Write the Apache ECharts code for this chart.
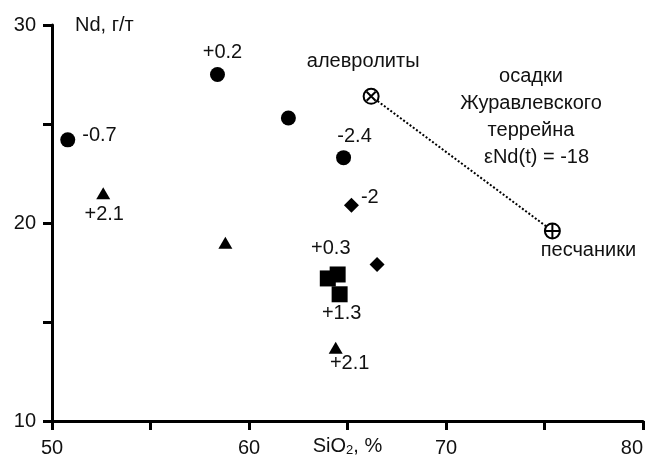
<!DOCTYPE html>
<html>
<head>
<meta charset="utf-8">
<script src="https://cdn.jsdelivr.net/npm/echarts@6/dist/echarts.min.js"></script>
<style>
  html, body { margin: 0; padding: 0; background: #fff; }
  #chart { width: 650px; height: 463px; }
</style>
</head>
<body>
<div id="chart"></div>
<script>
// Данные (SiO2, %; Nd, г/т)
const circleData = [[50.8, 24.2], [58.4, 27.5], [62.0, 25.3], [64.8, 23.3]];
const circleLabels = ['-0.7', '+0.2', '', '-2.4'];
const triangleData = [[52.6, 21.5], [58.8, 19.0], [64.4, 13.7]];
const triangleLabels = ['+2.1', '', '+2.1'];
const diamondData = [[65.2, 20.9], [66.5, 17.9]];
const diamondLabels = ['-2', ''];
const squareData = [[64.0, 17.2], [64.5, 17.4], [64.6, 16.4]];
const squareLabels = ['+0.3', '', '+1.3'];
const sedimentData = [[66.2, 26.4], [75.4, 19.6]];
const sedimentLabels = ['алевролиты', 'песчаники'];
const noteLines = ['осадки', 'Журавлевского', 'террейна', 'εNd(t) = -18'];

// Положения подписей (стиль, не данные)
const circleLabelPos = [
  { position: 'right', offset: [2, -4] },
  { position: 'top', offset: [5, 0] },
  null,
  { position: 'top', offset: [11, 1] }
];
const triangleLabelPos = [
  { position: 'bottom', offset: [1, 0] },
  null,
  { position: 'bottom', offset: [14, -5] }
];
const diamondLabelPos = [{ position: 'right', offset: [-3, -8] }, null];
const squareLabelPos = [
  { position: 'top', offset: [3, -7] },
  null,
  { position: 'bottom', offset: [2, -4] }
];
const sedimentLabelPos = [
  { position: 'top', offset: [-8, -11] },
  { position: 'bottom', offset: [36, -4] }
];

const FONT = 'Liberation Sans, Arial, sans-serif';
const TXT = '#111';
const FS = 20;

function withLabels(points, labels, layout) {
  return points.map((p, i) => {
    const item = { value: p };
    if (labels[i] && layout[i]) {
      item.label = {
        show: true,
        formatter: labels[i],
        position: layout[i].position,
        offset: layout[i].offset
      };
    }
    return item;
  });
}

const labelStyle = { fontFamily: FONT, fontSize: FS, color: TXT, distance: 5 };
const solid = { color: '#000', opacity: 1 };

const chart = echarts.init(document.getElementById('chart'));

chart.setOption({
  animation: false,
  grid: { left: 52, right: 7, top: 25, bottom: 42, outerBoundsMode: 'none', containLabel: false },
  xAxis: {
    type: 'value',
    min: 50,
    max: 80,
    interval: 5,
    splitLine: { show: false },
    axisLine: { lineStyle: { color: '#000', width: 3 } },
    axisTick: { inside: false, length: 9, lineStyle: { color: '#000', width: 3 } },
    axisLabel: {
      margin: 17,
      fontFamily: FONT,
      fontSize: FS,
      color: TXT,
      alignMaxLabel: 'right',
      formatter: v => (v % 10 === 0 ? String(v) : '')
    },
    name: '{n|SiO}{s|2}{n|, %}',
    nameLocation: 'middle',
    nameGap: 14,
    nameMoveOverlap: false,
    nameTextStyle: {
      rich: {
        n: { fontFamily: FONT, fontSize: FS, color: TXT },
        s: { fontFamily: FONT, fontSize: 13, color: TXT, verticalAlign: 'bottom', padding: [9, 0, 0, 0] }
      }
    }
  },
  yAxis: {
    type: 'value',
    min: 10,
    max: 30,
    interval: 5,
    splitLine: { show: false },
    axisLine: { lineStyle: { color: '#000', width: 3 } },
    axisTick: { inside: false, length: 9, lineStyle: { color: '#000', width: 3 } },
    axisLabel: {
      margin: 16,
      fontFamily: FONT,
      fontSize: FS,
      color: TXT,
      formatter: v => (v % 10 === 0 ? String(v) : '')
    },
    name: 'Nd, г/т',
    nameLocation: 'end',
    nameGap: 0,
    nameMoveOverlap: false,
    nameTextStyle: {
      fontFamily: FONT,
      fontSize: FS,
      color: TXT,
      align: 'left',
      verticalAlign: 'middle',
      padding: [0, 0, 0, 23]
    }
  },
  series: [
    {
      type: 'line',
      data: sedimentData,
      symbol: 'none',
      lineStyle: { color: '#000', width: 2, type: [2, 2] },
      silent: true,
      z: 1
    },
    {
      type: 'scatter',
      symbol: 'circle',
      symbolSize: 15,
      itemStyle: solid,
      label: labelStyle,
      data: withLabels(circleData, circleLabels, circleLabelPos)
    },
    {
      type: 'scatter',
      symbol: 'triangle',
      symbolSize: [14, 12],
      itemStyle: solid,
      label: labelStyle,
      data: withLabels(triangleData, triangleLabels, triangleLabelPos)
    },
    {
      type: 'scatter',
      symbol: 'diamond',
      symbolSize: [15, 15],
      itemStyle: solid,
      label: labelStyle,
      data: withLabels(diamondData, diamondLabels, diamondLabelPos)
    },
    {
      type: 'scatter',
      symbol: 'rect',
      symbolSize: 16,
      itemStyle: solid,
      label: labelStyle,
      data: withLabels(squareData, squareLabels, squareLabelPos)
    },
    {
      type: 'scatter',
      symbol: 'emptyCircle',
      symbolSize: 15,
      itemStyle: { color: '#000', borderColor: '#000', borderWidth: 2, opacity: 1 },
      label: labelStyle,
      z: 3,
      data: withLabels(sedimentData, sedimentLabels, sedimentLabelPos)
    },
    {
      // крестики внутри кружков: ⊗ у алевролитов, ⊕ у песчаников
      type: 'scatter',
      itemStyle: { color: 'none', borderColor: '#000', borderWidth: 2, opacity: 1 },
      z: 4,
      silent: true,
      data: [
        { value: sedimentData[0], symbol: 'path://M0,0 L10,10 M10,0 L0,10', symbolSize: 9 },
        { value: sedimentData[1], symbol: 'path://M5,0 L5,10 M0,5 L10,5', symbolSize: 14 }
      ]
    }
  ],
  graphic: noteLines.map((t, i) => ({
    type: 'text',
    x: i === 3 ? 484 : 531,
    y: 76 + i * 27,
    style: {
      text: t,
      fontFamily: FONT,
      fontSize: FS,
      fill: TXT,
      align: i === 3 ? 'left' : 'center',
      verticalAlign: 'middle'
    }
  }))
});
</script>
</body>
</html>
